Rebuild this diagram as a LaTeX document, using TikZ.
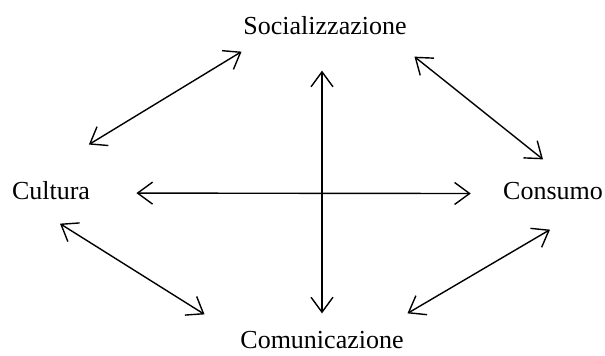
\documentclass[tikz,border=0pt]{standalone}
\usepackage{fontspec}
\setmainfont{Liberation Serif}
\usetikzlibrary{arrows.meta}

\begin{document}
\begin{tikzpicture}[
    x=0.5pt, y=-0.5pt,
    font=\fontsize{13}{15}\selectfont,
    >={Straight Barb[length=7.5pt, width=11pt]},
    term/.style={inner sep=0pt, anchor=base},
    arrow/.style={<->, line width=0.7pt}
]
\useasboundingbox (0,0) rectangle (605,356);
\node[term] (soc) at (325,35) {Socializzazione};
\node[term] (cult) at (51,200) {Cultura};
\node[term] (cons) at (553,200) {Consumo};
\node[term] (com) at (322,349) {Comunicazione};
\draw[arrow] ([shift={(-1.5,16)}]soc.south west) -- ([shift={(-1.5,-37)}]cult.north east);
\draw[arrow] ([shift={(7.5,21)}]soc.south east) -- ([shift={(-10,-23)}]cons.north);
\draw[arrow] ([shift={(46,2)}]cult.east) -- ([shift={(-32,2)}]cons.west);
\draw[arrow] ([shift={(0,35)}]soc.south -| com.north) -- ([shift={(0,-18)}]com.north);
\draw[arrow] ([shift={(9,23)}]cult.south) -- ([shift={(-35.5,-17)}]com.north west);
\draw[arrow] ([shift={(-3,29)}]cons.south) -- ([shift={(3.5,-18)}]com.north east);
\end{tikzpicture}
\end{document}
